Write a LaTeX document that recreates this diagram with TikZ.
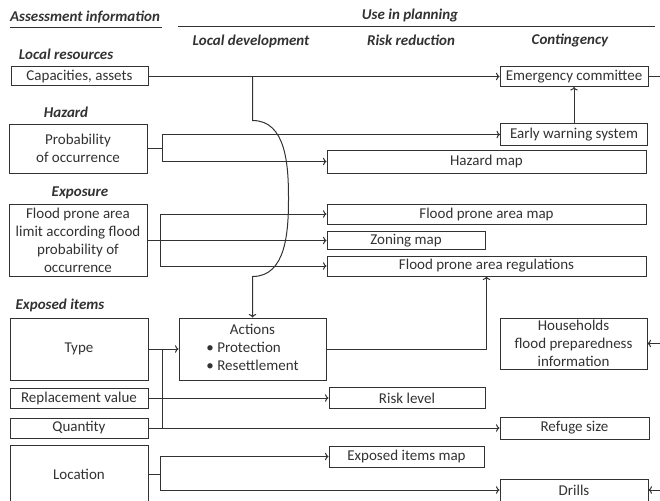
\documentclass[tikz,border=0pt]{standalone}
\usepackage{fontspec}
\setmainfont{Carlito}
\usepackage{tikz}
\usetikzlibrary{arrows.meta}
\definecolor{InkGray}{RGB}{50,50,50}

\begin{document}
\begin{tikzpicture}[x=1pt,y=-1pt,>={To[length=3.5pt,width=7.5pt]},color=InkGray,line width=1pt,
  box/.style={draw,inner sep=0pt,align=center,font=\fontsize{15}{18}\selectfont},
  hd/.style={font=\fontsize{15}{16}\selectfont\bfseries\itshape}]
\useasboundingbox (0,0) rectangle (660,500);
\clip (0,0) rectangle (660,500);
% headers
\node[hd] (assess) at (85,17) {Assessment information};
\node[hd] (use) at (410,16) {Use in planning};
\node[hd] (locdev) at (251,41) {Local development};
\node[hd] (riskred) at (411,40) {Risk reduction};
\node[hd] (conting) at (570,40) {Contingency};
\draw (10,28) -- (162,28);
\draw (178,27) -- (655,27);
% assessment side
\node[hd] (locres) at (66,54) {Local resources};
\node[box,minimum width=137pt,minimum height=19pt] (cap) at (79.5,76.5) {Capacities, assets};
\node[hd] (haz) at (66,112) {Hazard};
\node[box,minimum width=138pt,minimum height=49pt] (prob) at (78,148.5) {Probability\\of occurrence};
\node[hd] (expo) at (80,193) {Exposure};
\node[box,minimum width=138pt,minimum height=72pt] (flood) at (78,240.5) {Flood prone area\\limit according flood\\probability of\\occurrence};
\node[hd] (expitems) at (60,305) {Exposed items};
\node[box,minimum width=138pt,minimum height=62pt] (type) at (79,349) {Type};
\node[box,minimum width=138pt,minimum height=20pt] (repl) at (79,398) {Replacement value};
\node[box,minimum width=138pt,minimum height=20pt] (quant) at (79,428) {Quantity};
\node[box,minimum width=138pt,minimum height=58pt] (loc) at (79,474) {Location};
% planning side
\node[box,minimum width=147pt,minimum height=62pt] (act) at (252.5,349) {\begin{tabular}{@{}l@{}}\multicolumn{1}{@{}c@{}}{Actions}\\\textbullet\ Protection\\\textbullet\ Resettlement\end{tabular}};
\node[box,minimum width=148pt,minimum height=20pt] (ec) at (574,76.5) {Emergency committee};
\node[box,minimum width=147pt,minimum height=22pt] (ew) at (574,134.5) {Early warning system};
\node[box,minimum width=319pt,minimum height=23pt] (hazmap) at (486.5,161.5) {Hazard map};
\node[box,minimum width=319pt,minimum height=20pt] (fpmap) at (486.5,214) {Flood prone area map};
\node[box,minimum width=158pt,minimum height=18pt] (zoning) at (406,240.5) {Zoning map};
\node[box,minimum width=319pt,minimum height=20pt] (regs) at (486.5,266) {Flood prone area regulations};
\node[box,minimum width=147pt,minimum height=51pt] (hh) at (573.5,343.5) {Households\\flood preparedness\\information};
\node[box,minimum width=156pt,minimum height=21pt] (risk) at (407,398) {Risk level};
\node[box,minimum width=149pt,minimum height=22pt] (refuge) at (574.5,428) {Refuge size};
\node[box,minimum width=155pt,minimum height=21pt] (expmap) at (406.5,456.5) {Exposed items map};
\node[box,minimum width=148pt,minimum height=22pt] (drills) at (574,490) {Drills};
\coordinate (ecout) at (660,76.5);
\coordinate (hhin) at (660,343.5);
\coordinate (drin) at (660,490);
% connectors
\draw[->] (cap) -- (ec);
\draw (ec) -- (ecout);
\draw[->] (ew) -- (ec);
\draw[->] (act.north |- cap.east) -- ++(0,44) to[out=0,in=90] ++(36,78) to[out=-90,in=0] ++(-36,78) -- (act.north);
\draw[->] (prob.east) -- ++(15,0) |- (ew);
\draw[->] (prob.east) -- ++(15,0) |- (hazmap);
\draw[->] (flood) -- (zoning);
\draw[->] (flood.east) -- ++(13,0) |- (fpmap);
\draw[->] (flood.east) -- ++(13,0) |- (regs);
\draw[->] (type) -- (act);
\draw[->] (act.east) -| (regs.south);
\draw ([xshift=14pt]type.east) -- ([xshift=14pt]quant.east);
\draw[->] (repl) -- (risk);
\draw[->] (quant) -- (refuge);
\draw[->] (loc.east) -- ++(12,0) |- (expmap);
\draw[->] (loc.east) -- ++(12,0) |- (drills);
\draw[->] (hhin) -- (hh);
\draw[->] (drin) -- (drills);
\end{tikzpicture}
\end{document}
